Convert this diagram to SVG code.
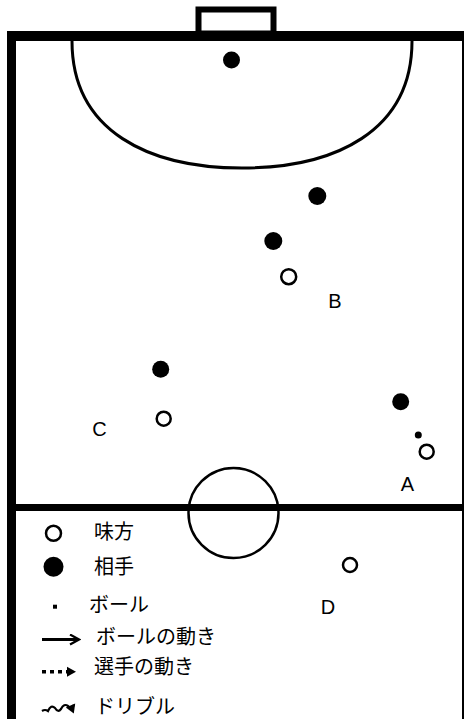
<svg xmlns="http://www.w3.org/2000/svg" width="466" height="719" viewBox="0 0 466 719">
<style>
.line{fill:none;stroke:#000}
.opp{fill:#000}
.own{fill:#fff;stroke:#000;stroke-width:2.5}
.lbl{font-family:"Liberation Sans",Arial,sans-serif;font-size:20px;fill:#000;text-anchor:middle}
.jp{font-family:"Noto Sans CJK JP","Noto Sans",sans-serif;font-size:20px;fill:#000}
</style>
<defs>
<marker id="ah" markerWidth="12" markerHeight="12" refX="9" refY="6" orient="auto" markerUnits="userSpaceOnUse">
<path d="M1,1 L10,6 L1,11" fill="none" stroke="#000" stroke-width="2.2"/>
</marker>
<marker id="ahf" markerWidth="12" markerHeight="12" refX="8" refY="6" orient="auto" markerUnits="userSpaceOnUse">
<path d="M1,1 L10,6 L1,11 Z" fill="#000"/>
</marker>
</defs>
<rect width="466" height="719" fill="#fff"/>
<g id="court">
<rect x="198.5" y="9.5" width="75" height="24" class="line" stroke-width="6"/>
<line x1="7" y1="36" x2="464" y2="36" class="line" stroke-width="10"/>
<line x1="11.5" y1="31" x2="11.5" y2="719" class="line" stroke-width="9"/>
<line x1="463" y1="41" x2="463" y2="719" class="line" stroke-width="2"/>
<line x1="12" y1="507.5" x2="463" y2="507.5" class="line" stroke-width="7"/>
<path d="M72,41 C72,132 150,168 242,168 C334,168 412,132 412,41" class="line" stroke-width="3"/>
<circle cx="233.5" cy="513" r="45" class="line" stroke-width="2.5"/>
</g>
<g id="gk"><circle cx="231.5" cy="60" r="8.5" class="opp"/></g>
<g id="opp1"><circle cx="317.3" cy="196" r="9" class="opp"/></g>
<g id="opp2"><circle cx="273.3" cy="241" r="9" class="opp"/></g>
<g id="playerB"><circle cx="288.7" cy="276.7" r="7.5" class="own"/><text x="335" y="308" class="lbl">B</text></g>
<g id="opp3"><circle cx="160.7" cy="369.3" r="8.5" class="opp"/></g>
<g id="playerC"><circle cx="163.7" cy="418.7" r="7" class="own"/><text x="99.5" y="436" class="lbl">C</text></g>
<g id="opp4"><circle cx="400.7" cy="401.7" r="8.5" class="opp"/></g>
<g id="ball"><circle cx="418.3" cy="435" r="3.5" class="opp"/></g>
<g id="playerA"><circle cx="426.7" cy="451.7" r="7" class="own"/><text x="407.5" y="491" class="lbl">A</text></g>
<g id="playerD"><circle cx="350" cy="565" r="7" class="own"/><text x="328" y="614" class="lbl">D</text></g>
<g id="legend">
<circle cx="53.5" cy="533.3" r="7.5" class="own" stroke-width="2"/>
<text x="94" y="539" class="jp">味方</text>
<circle cx="53.5" cy="566.7" r="10" class="opp"/>
<text x="94" y="574" class="jp">相手</text>
<rect x="53" y="604.7" width="4" height="4" class="opp"/>
<text x="89" y="612" class="jp">ボール</text>
<text x="96" y="644" class="jp">ボールの動き</text>
<text x="94" y="674" class="jp">選手の動き</text>
<text x="95" y="714" class="jp">ドリブル</text>
</g>
<g id="connectors">
<line x1="42" y1="639.5" x2="78" y2="639.5" class="line" stroke-width="3" marker-end="url(#ah)"/>
<line x1="42" y1="671.7" x2="74" y2="671.7" class="line" stroke-width="3.5" stroke-dasharray="4,4" marker-end="url(#ahf)"/>
<path d="M42,711 q3,-2 6,0 q3,-7 7,-3 q3,5 6,1 q3,-6 7,-3 q3,3 6,-1" class="line" stroke-width="2.2" marker-end="url(#ahf)"/>
</g>
</svg>
